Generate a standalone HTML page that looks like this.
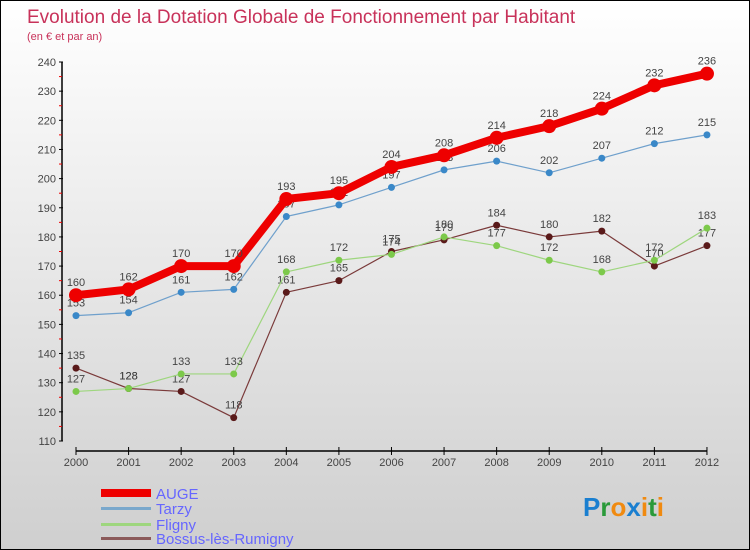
<!DOCTYPE html>
<html><head><meta charset="utf-8"><style>
body{margin:0}
#wrap{position:relative;width:748px;height:548px;border:1px solid #000;background:linear-gradient(#fff,#cfcfcf);font-family:"Liberation Sans",sans-serif;overflow:hidden}
</style></head><body>
<div id="wrap">
<svg id="svg" width="748" height="548" style="position:absolute;left:0;top:0">
<text x="26" y="22" font-size="19" fill="#c8325a">Evolution de la Dotation Globale de Fonctionnement par Habitant</text>
<text x="26" y="39" font-size="11" fill="#c8325a">(en € et par an)</text>
<g id="axes"></g><g id="series"></g>
<g>
<rect x="100" y="488" width="50" height="8" fill="#e00"/>
<text x="155" y="498" font-size="15" fill="#6666ff">AUGE</text>
<rect x="100" y="506" width="50" height="3" fill="#7aa8cc"/>
<text x="155" y="513" font-size="15" fill="#6666ff">Tarzy</text>
<rect x="100" y="522" width="50" height="3" fill="#9ed67e"/>
<text x="155" y="529" font-size="15" fill="#6666ff">Fligny</text>
<rect x="100" y="536" width="50" height="3" fill="#8b5a5a"/>
<text x="155" y="543" font-size="15" fill="#6666ff">Bossus-lès-Rumigny</text>
</g>
<text x="582" y="515" font-size="26" font-weight="bold"><tspan fill="#1a7fd0">P</tspan><tspan fill="#2a9a3a">r</tspan><tspan fill="#f08a10">o</tspan><tspan fill="#1a7fd0">x</tspan><tspan fill="#f08a10">i</tspan><tspan fill="#2a9a3a">t</tspan><tspan fill="#f08a10">i</tspan></text>
</svg>
</div>
<script>
const years=[2000,2001,2002,2003,2004,2005,2006,2007,2008,2009,2010,2011,2012];
const yTicks=[110,120,130,140,150,160,170,180,190,200,210,220,230,240];
const auge=[160,162,170,170,193,195,204,208,214,218,224,232,236];
const tarzy=[153,154,161,162,187,191,197,203,206,202,207,212,215];
const fligny=[127,128,133,133,168,172,174,180,177,172,168,172,183];
const bossus=[135,128,127,118,161,165,175,179,184,180,182,170,177];
const NS="http://www.w3.org/2000/svg";
function X(i){return 75+i*52.58;}
function Y(v){return 440-(v-110)*(379/130);}
function mk(t,a,p){const e=document.createElementNS(NS,t);for(const k in a)e.setAttribute(k,a[k]);p.appendChild(e);return e;}
const ax=document.getElementById('axes'),sr=document.getElementById('series');
const yl=mk('line',{x1:61,y1:Y(240),x2:61,y2:Y(110),stroke:'#000','stroke-width':1.5},ax);


yTicks.forEach(v=>{
 mk('line',{x1:58,x2:62,y1:Y(v),y2:Y(v),stroke:'#000'},ax);
 if(v<240)mk('line',{x1:58,x2:61,y1:Y(v+5),y2:Y(v+5),stroke:'#e00'},ax);
 const t=mk('text',{x:55,y:Y(v)+4,'font-size':11,fill:'#444','text-anchor':'end'},ax);t.textContent=v;
 
 
});
const xl=mk('line',{x1:X(0),y1:450,x2:X(12),y2:450,stroke:'#000','stroke-width':1.5},ax);


years.forEach((y,i)=>{
 mk('line',{x1:X(i),x2:X(i),y1:446,y2:454,stroke:'#000'},ax);
 const t=mk('text',{x:X(i),y:465,'font-size':11,fill:'#444','text-anchor':'middle'},ax);t.textContent=y;
 
 
});
function series(d,name,col,w,r,dot){
 const g=mk('g',{},sr);
 
 
 mk('polyline',{points:d.map((v,i)=>X(i)+','+Y(v)).join(' '),fill:'none',stroke:col,'stroke-width':w,'stroke-linejoin':'round'},g);
 d.forEach((v,i)=>{
  const c=mk('circle',{cx:X(i),cy:Y(v),r:r,fill:dot},g);
  
  
  const t=mk('text',{x:X(i),y:Y(v)-9,'font-size':11,fill:'#444','text-anchor':'middle'},g);t.textContent=v;
  
  
 });
}
series(bossus,'bossus','#7a3a3a',1.2,3.5,'#5a1a1a');
series(fligny,'fligny','#9ed67e',1.2,3.5,'#7cc94a');
series(tarzy,'tarzy','#6fa0cc',1.2,3.5,'#3a88c8');
series(auge,'auge','#e00',8,7,'#e00');
</script>
</body></html>
